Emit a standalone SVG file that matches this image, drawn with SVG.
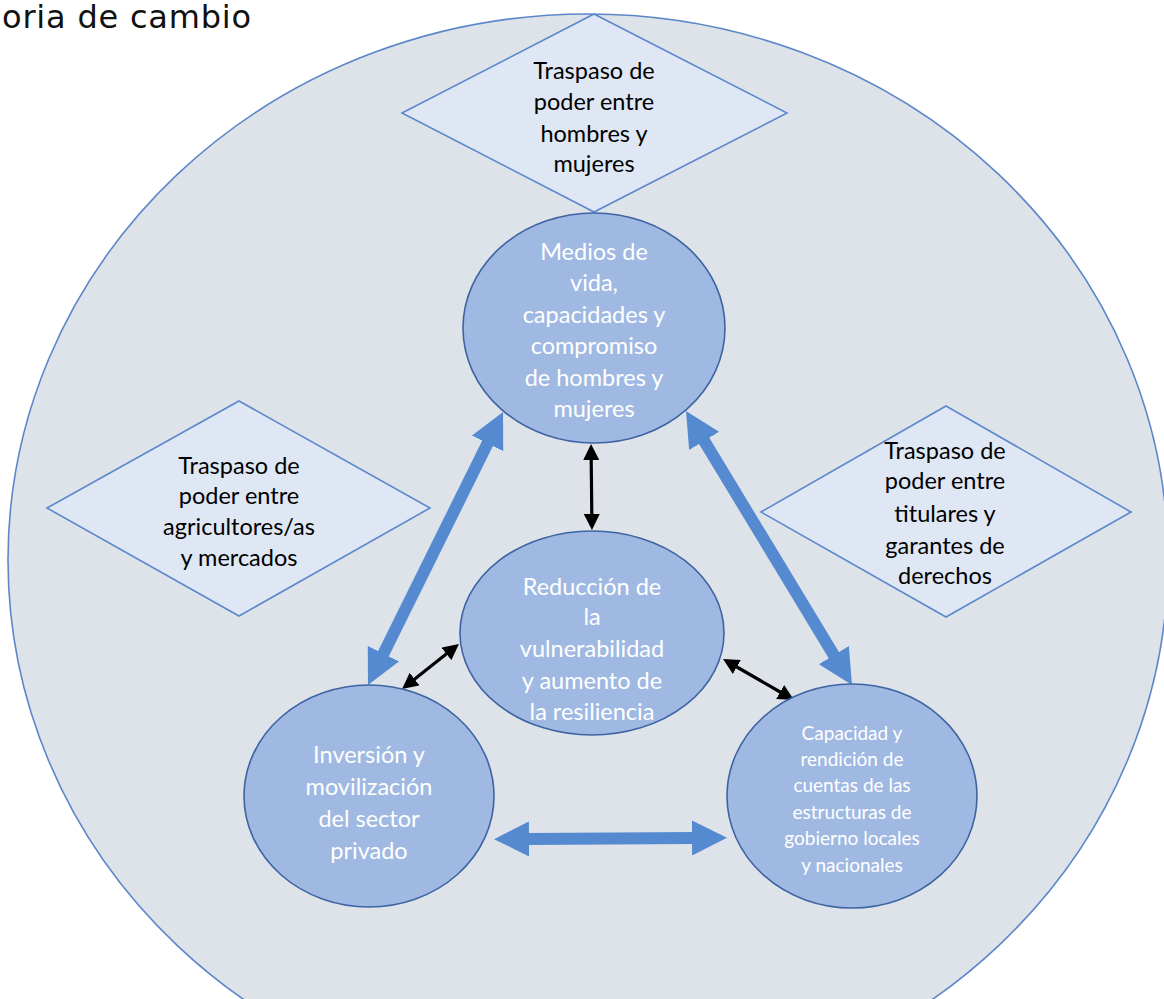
<svg xmlns="http://www.w3.org/2000/svg" width="1164" height="999" viewBox="0 0 1164 999">
<defs>
<style>
.bg{fill:#dee3ea;stroke:#5b87c8;stroke-width:1.6}
.dia{fill:#dfe7f4;stroke:#5b88cc;stroke-width:1.6}
.circ{fill:#a0b9e2;stroke:#3d64a3;stroke-width:1.6}
.dt{font-family:Lato,"Liberation Sans",sans-serif;font-size:23.5px;fill:#000;text-anchor:middle}
.ct{font-family:Lato,"Liberation Sans",sans-serif;font-size:23.5px;fill:#ffffff;text-anchor:middle}
.cts{font-family:Lato,"Liberation Sans",sans-serif;font-size:19px;fill:#ffffff;text-anchor:middle}
.big{stroke:#558ad0;stroke-width:12;fill:none}
.small{stroke:#000;stroke-width:3.2;fill:none}
</style>
<marker id="bigHead" viewBox="0 0 35 35" markerWidth="35" markerHeight="35" refX="2" refY="17.5" orient="auto-start-reverse" markerUnits="userSpaceOnUse">
<path d="M0,0 L35,17.5 L0,35 z" fill="#558ad0"/>
</marker>
<marker id="smallHead" viewBox="0 0 16 16" markerWidth="16" markerHeight="16" refX="1" refY="8" orient="auto-start-reverse" markerUnits="userSpaceOnUse">
<path d="M0,0 L16,8 L0,16 z" fill="#000"/>
</marker>
</defs>
<rect width="1164" height="999" fill="#ffffff"/>
<text x="2" y="28" font-family="'DejaVu Sans',sans-serif" font-size="32" letter-spacing="0.8" fill="#111">oria de cambio</text>
<g id="outer"><ellipse class="bg" cx="588" cy="560" rx="580" ry="546"/></g>

<g id="connectors">
<line class="big" x1="488.4" y1="441.6" x2="382.6" y2="655.4" marker-start="url(#bigHead)" marker-end="url(#bigHead)"/>
<line class="big" x1="703.1" y1="439.2" x2="834.9" y2="656.8" marker-start="url(#bigHead)" marker-end="url(#bigHead)"/>
<line class="big" x1="527" y1="839" x2="694" y2="838" marker-start="url(#bigHead)" marker-end="url(#bigHead)"/>
<line class="small" x1="591.2" y1="459" x2="591.8" y2="515" marker-start="url(#smallHead)" marker-end="url(#smallHead)"/>
<line class="small" x1="447.2" y1="653.3" x2="413.8" y2="679.7" marker-start="url(#smallHead)" marker-end="url(#smallHead)"/>
<line class="small" x1="736" y1="666.5" x2="781" y2="692.5" marker-start="url(#smallHead)" marker-end="url(#smallHead)"/>
</g>

<g id="diamond-top">
<polygon class="dia" points="594,14 787,113 594,212 402,113"/>
<text class="dt" x="594" y="79">Traspaso de</text>
<text class="dt" x="594" y="110">poder entre</text>
<text class="dt" x="594" y="142">hombres y</text>
<text class="dt" x="594" y="172">mujeres</text>
</g>

<g id="diamond-left">
<polygon class="dia" points="239,401 430,508 239,616 47,508"/>
<text class="dt" x="239" y="474">Traspaso de</text>
<text class="dt" x="239" y="504">poder entre</text>
<text class="dt" x="239" y="535">agricultores/as</text>
<text class="dt" x="239" y="566">y mercados</text>
</g>

<g id="diamond-right">
<polygon class="dia" points="946,406 1131,512 946,617 761,512"/>
<text class="dt" x="945" y="459">Traspaso de</text>
<text class="dt" x="945" y="489">poder entre</text>
<text class="dt" x="945" y="522">titulares y</text>
<text class="dt" x="945" y="554">garantes de</text>
<text class="dt" x="945" y="584">derechos</text>
</g>

<g id="node-medios">
<ellipse class="circ" cx="594" cy="328" rx="131" ry="115"/>
<text class="ct" x="594" y="260">Medios de</text>
<text class="ct" x="594" y="291">vida,</text>
<text class="ct" x="594" y="323">capacidades y</text>
<text class="ct" x="594" y="354">compromiso</text>
<text class="ct" x="594" y="386">de hombres y</text>
<text class="ct" x="594" y="417">mujeres</text>
</g>

<g id="node-reduccion">
<ellipse class="circ" cx="592" cy="633" rx="132" ry="102"/>
<text class="ct" x="592" y="595">Reducción de</text>
<text class="ct" x="592" y="625">la</text>
<text class="ct" x="592" y="657">vulnerabilidad</text>
<text class="ct" x="592" y="689">y aumento de</text>
<text class="ct" x="592" y="720">la resiliencia</text>
</g>

<g id="node-inversion">
<ellipse class="circ" cx="369" cy="796" rx="125" ry="111"/>
<text class="ct" x="369" y="763">Inversión y</text>
<text class="ct" x="369" y="795">movilización</text>
<text class="ct" x="369" y="827">del sector</text>
<text class="ct" x="369" y="859">privado</text>
</g>

<g id="node-capacidad">
<ellipse class="circ" cx="852" cy="796" rx="125" ry="112"/>
<text class="cts" x="852" y="740">Capacidad y</text>
<text class="cts" x="852" y="766">rendición de</text>
<text class="cts" x="852" y="792">cuentas de las</text>
<text class="cts" x="852" y="819">estructuras de</text>
<text class="cts" x="852" y="845">gobierno locales</text>
<text class="cts" x="852" y="872">y nacionales</text>
</g>
</svg>
